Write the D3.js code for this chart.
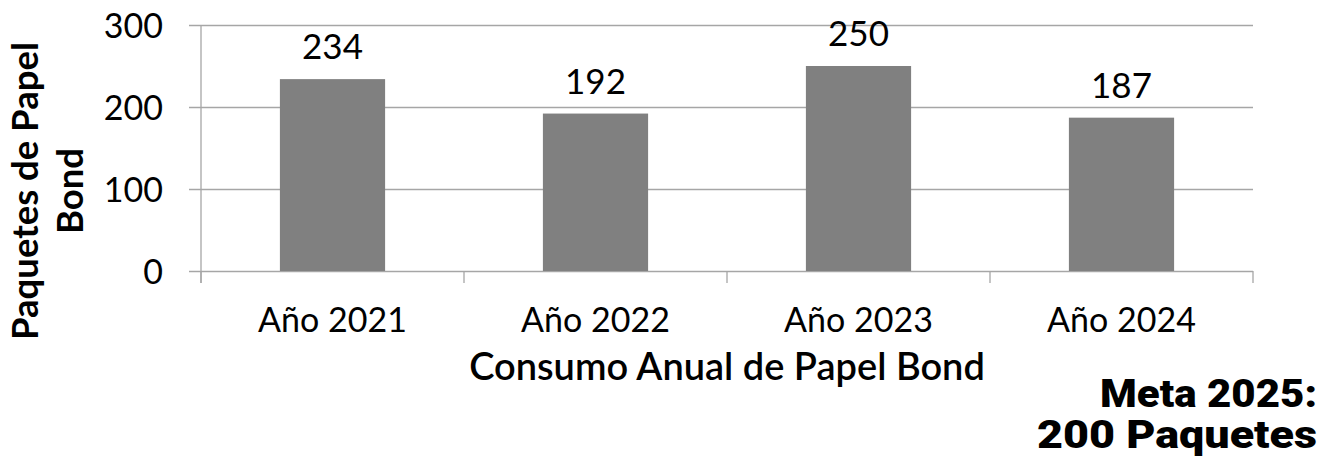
<!DOCTYPE html>
<html>
<head>
<meta charset="utf-8">
<script src="https://cdn.jsdelivr.net/npm/d3@7"></script>
<style>
  body { margin: 0; background: #fff; }
  text { font-family: Lato, "Open Sans", sans-serif; fill: #000; }
</style>
</head>
<body>
<div id="chart"></div>
<script>
// data
const years = ["Año 2021", "Año 2022", "Año 2023", "Año 2024"];
const paquetes = [234, 192, 250, 187];
const yTicks = [0, 100, 200, 300];
const yTitle = ["Paquetes de Papel", "Bond"];
const xTitle = "Consumo Anual de Papel Bond";
const meta = ["Meta 2025:", "200 Paquetes"];

const W = 1333, H = 460;
const margin = {top: 25, right: 80, bottom: 189, left: 201};
const width = W - margin.left - margin.right;
const height = H - margin.top - margin.bottom;

const svg = d3.select("#chart").append("svg")
    .attr("width", W)
    .attr("height", H);

const g = svg.append("g")
    .attr("transform", `translate(${margin.left},${margin.top})`);

// scales
const x = d3.scaleBand()
    .domain(years)
    .range([0, width])
    .paddingInner(0.6)
    .paddingOuter(0.3);

const y = d3.scaleLinear()
    .domain([0, 300])
    .range([height, 0]);

const gridColor = "#a6a6a6";

// gridlines + y axis
const yAxis = g.append("g")
    .call(d3.axisLeft(y).tickValues(yTicks).tickSize(12).tickPadding(26).tickFormat(d3.format("d")));
yAxis.select(".domain").remove();
yAxis.selectAll(".tick line")
    .attr("x2", -12)
    .attr("x1", width)
    .attr("stroke", gridColor)
    .attr("stroke-width", 1.3);
yAxis.selectAll(".tick text")
    .style("font-size", "34px")
    .attr("dy", "0.36em");

// vertical axis line
g.append("line")
    .attr("x1", 0).attr("x2", 0)
    .attr("y1", 0).attr("y2", height + 12)
    .attr("stroke", gridColor)
    .attr("stroke-width", 1.3);

// bars
g.selectAll(".bar")
    .data(paquetes)
    .enter().append("rect")
    .attr("class", "bar")
    .attr("x", (d, i) => x(years[i]))
    .attr("y", d => y(d))
    .attr("width", x.bandwidth())
    .attr("height", d => height - y(d))
    .attr("fill", "#808080");

// value labels
g.selectAll(".val")
    .data(paquetes)
    .enter().append("text")
    .attr("x", (d, i) => x(years[i]) + x.bandwidth() / 2)
    .attr("y", d => y(d) - 20)
    .attr("text-anchor", "middle")
    .style("font-size", "35px")
    .text(d => d);

// x axis: category labels + separator ticks
const xAxis = g.append("g")
    .attr("transform", `translate(0,${height})`)
    .call(d3.axisBottom(x).tickSize(0));
xAxis.select(".domain").remove();
xAxis.selectAll(".tick text")
    .attr("y", 61)
    .attr("dy", 0)
    .style("font-size", "34px");

const step = x.step();
const edges = years.map(c => x(c) - step * 0.3).concat([width]);
g.selectAll(".sep")
    .data(edges)
    .enter().append("line")
    .attr("x1", d => d).attr("x2", d => d)
    .attr("y1", height).attr("y2", height + 12)
    .attr("stroke", gridColor)
    .attr("stroke-width", 1.3);

// axis titles
g.append("text")
    .attr("x", width / 2)
    .attr("y", 380 - margin.top)
    .attr("text-anchor", "middle")
    .style("font-size", "38px")
    .style("font-weight", 600)
    .text(xTitle);

svg.append("g")
    .attr("transform", "translate(0,191) rotate(-90)")
    .selectAll("text")
    .data(yTitle)
    .enter().append("text")
    .attr("x", 0)
    .attr("y", (d, i) => 38 + i * 45)
    .attr("text-anchor", "middle")
    .style("font-size", "36.5px")
    .style("font-weight", 700)
    .text(d => d);

// meta note (wide black lettering, stretched to the reference width)
const metaWidths = [217, 280];
svg.selectAll(".meta")
    .data(meta)
    .enter().append("text")
    .attr("x", 1317)
    .attr("y", (d, i) => 407 + i * 41)
    .attr("text-anchor", "end")
    .attr("textLength", (d, i) => metaWidths[i])
    .attr("lengthAdjust", "spacingAndGlyphs")
    .style("font-family", "Roboto, Lato, sans-serif")
    .style("font-size", "38px")
    .style("font-weight", 900)
    .text(d => d);
</script>
</body>
</html>
